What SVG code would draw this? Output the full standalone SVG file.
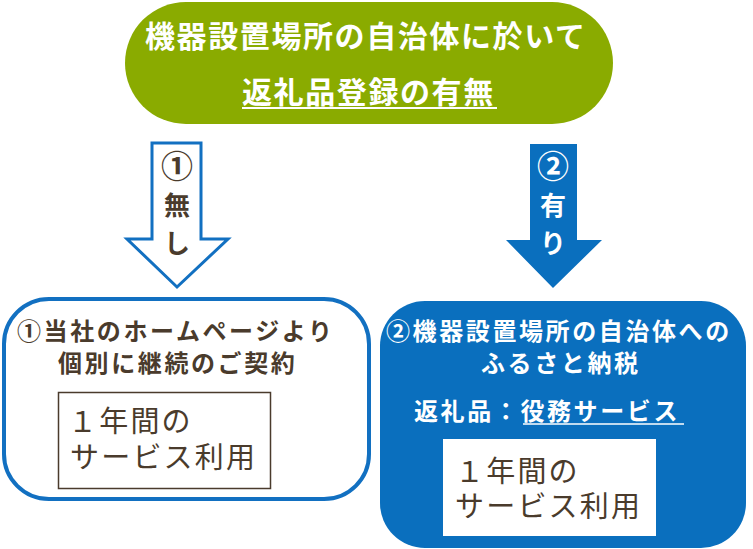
<svg xmlns="http://www.w3.org/2000/svg" width="753" height="549" viewBox="0 0 753 549">
<style>
text{font-family:"Noto Sans CJK JP","Noto Sans",sans-serif;}
.w{fill:#ffffff;font-weight:bold;}
.b{fill:#4a3b2c;font-weight:bold;}
.n{fill:#4a3b2c;font-weight:normal;}
.t{font-size:30px;letter-spacing:1.6px;}
.h{font-size:24px;letter-spacing:2.6px;}
.i{font-size:29px;letter-spacing:2.2px;}
.a{font-size:26px;text-anchor:middle;}
.c{font-size:32px;}
</style>
<rect width="753" height="549" fill="#ffffff"/>
<g id="top">
<rect x="125" y="2" width="488" height="122" rx="61" fill="#8aab00"/>
<text class="w t" x="145" y="47">機器設置場所の自治体に於いて</text>
<text class="w t" x="242" y="103">返礼品登録の有無</text>
<line x1="242" y1="108" x2="497" y2="108" stroke="#ffffff" stroke-width="2"/>
</g>
<g id="connectors">
<g id="arrow-none">
<polygon points="152,143 201,143 201,239 228,239 177,287 127,239 152,239" fill="#ffffff" stroke="#1270c1" stroke-width="3"/>
<text class="b a c" x="177" y="178">①</text>
<text class="b a" x="177" y="215">無</text>
<text class="b a" x="177" y="253">し</text>
</g>
<g id="arrow-yes">
<polygon points="530,144 577,144 577,240 602,240 553,288 506,240 530,240" fill="#0a6fbe"/>
<text class="w a c" x="553" y="178">②</text>
<text class="w a" x="553" y="215">有</text>
<text class="w a" x="553" y="253">り</text>
</g>
</g>
<g id="box-none">
<rect x="4" y="299" width="365" height="200" rx="45" fill="#ffffff" stroke="#1270c1" stroke-width="4"/>
<text class="b h" x="17" y="340">①当社のホームページより</text>
<text class="b h" x="58" y="372">個別に継続のご契約</text>
<rect x="58.5" y="392.5" width="212" height="96" fill="#ffffff" stroke="#4a3b2c" stroke-width="1.5"/>
<text class="n i"><tspan x="68" y="432">１年間の</tspan><tspan x="70" y="468">サービス利用</tspan></text>
</g>
<g id="box-yes">
<rect x="380" y="301" width="366" height="247" rx="45" fill="#0a6fbe"/>
<text class="w h" x="386" y="340">②機器設置場所の自治体への</text>
<text class="w h" x="481" y="372">ふるさと納税</text>
<text class="w h" x="414" y="420">返礼品：役務サービス</text>
<line x1="523" y1="424" x2="684" y2="424" stroke="#ffffff" stroke-width="1.5"/>
<rect x="443" y="439" width="213" height="97" fill="#ffffff"/>
<text class="n i"><tspan x="455" y="482">１年間の</tspan><tspan x="455" y="517">サービス利用</tspan></text>
</g>
</svg>
